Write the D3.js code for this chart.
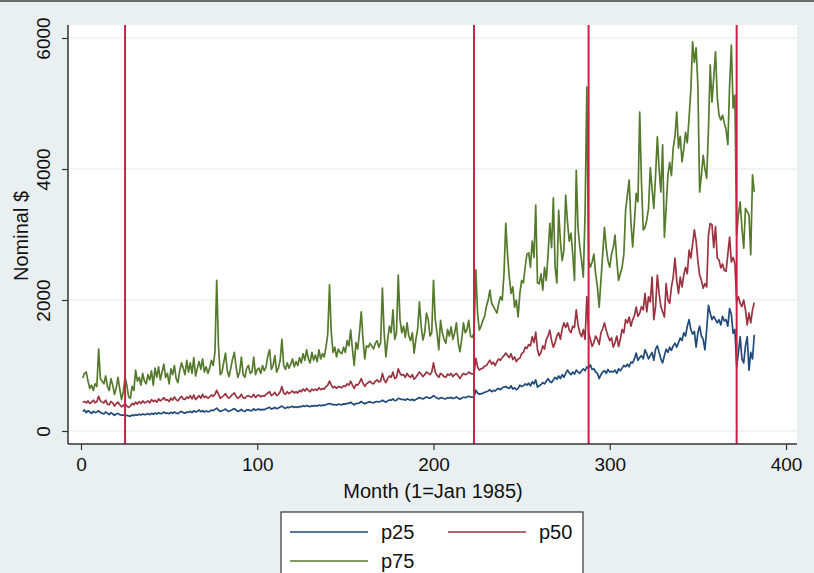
<!DOCTYPE html>
<html>
<head>
<meta charset="utf-8">
<script src="https://cdn.jsdelivr.net/npm/d3@7"></script>
<style>
  body { margin: 0; background: #eaf0f2; }
  text { font-family: "Liberation Sans", Arial, sans-serif; fill: #111; }
</style>
</head>
<body>
<div id="viz"></div>
<script>
// p25, p50, p75 of nominal $ by month (1 = Jan 1985), one row per year
var p25 = [
  300, 320, 280, 310, 290, 270, 300, 280, 290, 310, 280, 270,
  260, 290, 270, 250, 280, 260, 240, 260, 270, 250, 240, 245,
  235, 240, 230, 225, 245, 235, 250, 240, 255, 245, 260, 250,
  255, 265, 250, 270, 255, 275, 260, 280, 265, 270, 290, 270,
  275, 265, 285, 270, 290, 275, 265, 285, 300, 280, 270, 290,
  285, 300, 280, 310, 290, 300, 320, 295, 310, 290, 305, 295,
  300, 320, 310, 330, 350, 320, 300, 310, 320, 335, 310, 300,
  315, 330, 340, 320, 300, 310, 330, 305, 300, 320, 325, 310,
  310, 340, 315, 330, 335, 320, 330, 325, 340, 350, 360, 335,
  345, 360, 340, 350, 365, 380, 360, 345, 365, 355, 370, 375,
  360, 370, 360, 375, 370, 385, 375, 390, 380, 370, 385, 380,
  390, 380, 395, 385, 395, 390, 405, 410, 420, 410, 400, 405,
  395, 410, 405, 400, 415, 410, 425, 420, 440, 415, 400, 420,
  420, 430, 450, 430, 415, 430, 440, 445, 435, 430, 445, 450,
  445, 450, 470, 455, 440, 460, 475, 470, 490, 465, 470, 500,
  490, 480, 485, 470, 490, 480, 470, 485, 465, 480, 495, 510,
  500, 490, 505, 520, 510, 500, 515, 540, 520, 505, 490, 510,
  505, 495, 490, 510, 500, 515, 495, 505, 520, 500, 485, 505,
  515, 510, 520, 530, 520, 515, 520, 625, 580, 560, 570, 575,
  590, 600, 610, 630, 600, 620, 610, 640, 650, 630, 660, 670,
  680, 660, 650, 690, 640, 660, 630, 650, 700, 680, 690, 720,
  700, 730, 690, 750, 720, 780, 670, 690, 710, 740, 720, 760,
  800, 760, 740, 780, 820, 790, 840, 800, 860, 820, 880, 930,
  890, 860, 900, 870, 930, 900, 880, 920, 950, 920, 980, 960,
  1010, 940, 950, 900, 880, 800, 860, 900, 920, 880, 940, 900,
  910, 900, 930, 880, 950, 920, 960, 1000, 980, 1020, 980, 1050,
  1040, 1100, 1190, 1080, 1120, 1150, 1100, 1240, 1180, 1100, 1150, 1200,
  1080, 1250, 1300, 1200, 1100, 1040, 1150, 1250, 1200, 1280, 1230, 1300,
  1340, 1280, 1350, 1420, 1380, 1500, 1450, 1600, 1700, 1550, 1480, 1520,
  1280, 1500, 1600, 1450, 1400, 1240, 1550, 1920, 1800, 1700, 1750, 1700,
  1650, 1700, 1620, 1750, 1680, 1700, 1600, 1870, 1780, 1490, 1550, 980,
  1200, 1440, 1100, 1040, 1300, 1440, 930, 1200, 1100, 1470
];
var p50 = [
  440, 450, 430, 460, 420, 440, 470, 430, 450, 530, 460, 440,
  430, 470, 410, 400, 450, 430, 380, 420, 440, 400, 370, 390,
  420, 380, 360, 380, 420, 400, 440, 410, 450, 420, 460, 430,
  440, 460, 430, 480, 450, 470, 440, 490, 460, 480, 510, 470,
  480, 450, 500, 470, 520, 480, 460, 500, 530, 490, 480, 520,
  500, 540, 490, 550, 480, 510, 540, 500, 560, 510, 530, 500,
  520, 550, 530, 560, 620, 560, 500, 520, 540, 570, 520, 500,
  530, 560, 580, 530, 500, 520, 560, 510, 500, 530, 540, 520,
  520, 560, 510, 540, 550, 520, 540, 530, 560, 580, 600, 540,
  560, 590, 540, 560, 600, 680, 580, 560, 600, 570, 590, 610,
  580, 600, 580, 620, 600, 640, 610, 650, 620, 600, 640, 620,
  640, 620, 660, 630, 650, 640, 680, 700, 760, 700, 660, 680,
  650, 680, 670, 660, 690, 680, 720, 700, 760, 700, 650, 710,
  700, 740, 800, 730, 680, 720, 740, 760, 730, 720, 760, 780,
  750, 760, 880, 780, 740, 800, 840, 820, 900, 800, 820, 950,
  880, 850, 860, 820, 880, 840, 820, 860, 790, 820, 860, 900,
  870, 830, 860, 900, 880, 860, 900, 1040, 900, 850, 820, 880,
  860, 830, 820, 870, 850, 880, 830, 860, 880, 840, 800, 850,
  880, 860, 870, 900, 880, 870, 880, 1110, 980, 930, 950, 960,
  990, 1000, 1040, 1080, 1020, 1050, 1000, 1060, 1100, 1080, 1120, 1150,
  1190, 1150, 1120, 1180, 1090, 1130, 1060, 1100, 1110, 1180, 1200, 1280,
  1260, 1320, 1300, 1440, 1350, 1510, 1240, 1150, 1200, 1300, 1250, 1400,
  1450, 1540, 1380, 1280, 1350, 1450, 1500, 1400, 1560, 1650, 1580, 1650,
  1540, 1500, 1600, 1580, 1850, 1620, 1500, 1440, 1550, 1400, 2050, 1500,
  1400, 1290, 1350, 1450, 1400, 1320, 1500, 1560, 1650, 1540, 1450, 1380,
  1420, 1280, 1350, 1450, 1290, 1400, 1550, 1500, 1700, 1650, 1740, 1600,
  1700, 1760, 1890, 1750, 1800, 1900, 1850, 2100, 1820, 2050, 1970, 2350,
  1700, 1900, 2380, 2100, 1900, 1820, 1740, 2250, 2000, 1950, 2200, 2350,
  2640, 2300, 2100, 2350, 2200, 2380, 2500, 2400, 2760, 2640, 2850, 3070,
  2900, 2600, 2380, 2300, 2180, 2250, 2200, 2990, 3170, 3150, 2800, 3120,
  2640, 2610, 2490, 2550, 2450, 2440, 2700, 2960, 2580, 2650, 2560, 1970,
  2050, 1950, 1900, 2000, 1850, 1620, 1800, 1650, 1850, 1960
];
var p75 = [
  810, 880, 900, 760, 650, 700, 620, 720, 680, 1250, 800, 760,
  720, 840, 680, 620, 800, 700, 560, 660, 820, 640, 480, 600,
  820, 700, 520, 500, 680, 620, 930, 760, 820, 700, 880, 760,
  720, 860, 780, 920, 700, 960, 820, 980, 780, 900, 1020, 820,
  880, 720, 950, 860, 1000, 800, 740, 920, 1040, 960, 860, 1080,
  900, 1040, 880, 1120, 840, 960, 1060, 940, 1100, 900, 980, 880,
  960, 1080, 1000, 1200, 2300, 1300, 860, 900, 1050, 1190, 920, 830,
  960, 1100, 1200, 980, 820, 900, 1130, 860, 820, 960, 1000, 880,
  900, 1130, 860, 940, 960, 880, 1000, 920, 980, 1150, 1240, 940,
  1000, 1150, 900, 960, 1080, 1400, 1000, 940, 1040, 960, 1020, 1100,
  980, 1060, 1000, 1120, 1040, 1180, 1080, 1240, 1100, 1040, 1200, 1080,
  1160, 1060, 1240, 1100, 1180, 1130, 1280, 1480, 2230, 1500, 1200, 1280,
  1130, 1250, 1200, 1180, 1280, 1200, 1380, 1300, 1540, 1250, 1000, 1350,
  1250, 1500, 1820, 1400, 1100, 1300, 1280, 1340, 1300, 1250, 1340, 1380,
  1280, 1350, 2180, 1500, 1130, 1400, 1600, 1500, 1850, 1400, 1500, 2380,
  1700, 1500, 1600, 1430, 1650, 1450, 1380, 1500, 1190, 1400, 1550, 1970,
  1600, 1390, 1500, 1800, 1700, 1450, 1500, 2300, 1700, 1500, 1240, 1690,
  1500, 1400, 1340, 1550, 1450, 1590, 1400, 1500, 1650, 1350, 1210, 1400,
  1650, 1500, 1550, 1690, 1450, 1430, 1500, 2460, 1800, 1540, 1600, 1690,
  1750, 1900, 2000, 2150, 1950, 1900, 1850, 1800, 1950, 2050, 2000, 2400,
  3170, 2700, 2350, 2100, 2200, 1890, 2000, 1740, 2100, 2300, 2260, 2500,
  2700, 2720, 2500, 2900, 2650, 3450, 2260, 2250, 2400, 2150, 2500, 2300,
  2700, 3170, 2800, 3560, 2500, 2260, 3370, 2900, 2600, 2760, 3600, 3200,
  2900, 3020, 2700, 2300, 3980, 3100, 2810, 2600, 2350, 3320, 5250, 2610,
  2500, 2580, 2700, 2400, 2200, 1890, 2300, 2700, 3110, 2800, 2600, 2500,
  2700, 2800, 2990, 2600, 2300, 2400, 2500, 2700, 3370, 3600, 3830, 3200,
  2810, 3200, 3630, 3500, 4870, 3800, 3070, 3110, 3220, 3400, 4020, 3700,
  3400, 3900, 4490, 4000, 3650, 4370, 2960, 3400, 3910, 4100, 3900, 4320,
  4500, 4870, 4320, 4500, 4110, 4300, 4560, 4400, 4780, 5200, 5940, 5630,
  5850, 5280, 3650, 3900, 4210, 4000, 3860, 4600, 5590, 5020, 5400, 5790,
  5100, 4820, 4750, 4820, 4700, 4600, 4370, 5280, 5890, 4930, 5130, 2990,
  3300, 3500, 3100, 2790, 3400, 3350, 3300, 2690, 3910, 3650
];
// months marked with vertical lines
var markMonths = [25, 223, 288, 372];
var xTicks = [0, 100, 200, 300, 400];
var yTicks = [0, 2000, 4000, 6000];

var width = 814, height = 573;

var svg = d3.select("#viz").append("svg")
    .attr("width", width)
    .attr("height", height);

svg.append("rect").attr("width", width).attr("height", height).attr("fill", "#eaf0f2");
svg.append("rect").attr("width", width).attr("height", 2).attr("fill", "#6b6b6b");

// plot region
var plotLeft = 68, plotRight = 797, plotTop = 25, plotBottom = 444;
svg.append("rect")
    .attr("x", plotLeft).attr("y", plotTop)
    .attr("width", plotRight - plotLeft).attr("height", plotBottom - plotTop)
    .attr("fill", "#ffffff");

var x = d3.scaleLinear().domain([0, 400]).range([81, 786]);
var y = d3.scaleLinear().domain([0, 6000]).range([431, 38]);

// grid
svg.selectAll(".grid").data(yTicks).enter().append("line")
    .attr("class", "grid")
    .attr("x1", plotLeft + 1).attr("x2", plotRight)
    .attr("y1", function(d) { return y(d) }).attr("y2", function(d) { return y(d) })
    .attr("stroke", "#eaf0f2").attr("stroke-width", 1.5);

// series
var series = [
    { name: "p25", values: p25, color: "#1f4a7a" },
    { name: "p50", values: p50, color: "#9b3440" },
    { name: "p75", values: p75, color: "#557a2c" }
];

var line = d3.line()
    .x(function(d, i) { return x(i + 1) })
    .y(function(d) { return y(d) });

svg.selectAll(".series").data(series).enter().append("path")
    .attr("class", "series")
    .attr("d", function(d) { return line(d.values) })
    .attr("fill", "none")
    .attr("stroke", function(d) { return d.color })
    .attr("stroke-width", 1.7)
    .attr("stroke-linejoin", "round");

// vertical marker lines
svg.selectAll(".mark").data(markMonths).enter().append("line")
    .attr("class", "mark")
    .attr("x1", function(d) { return x(d) }).attr("x2", function(d) { return x(d) })
    .attr("y1", plotTop).attr("y2", plotBottom)
    .attr("stroke", "#cc1f45").attr("stroke-width", 2);

// axes
var xAxis = svg.append("g")
    .attr("transform", "translate(0," + plotBottom + ")")
    .call(d3.axisBottom(x).tickValues(xTicks).tickFormat(d3.format("d")).tickSize(6).tickPadding(8));
xAxis.select(".domain").attr("d", "M" + plotLeft + ",0H" + plotRight);

var yAxis = svg.append("g")
    .attr("transform", "translate(" + plotLeft + ",0)")
    .call(d3.axisLeft(y).tickValues(yTicks).tickFormat(d3.format("d")).tickSize(6));
yAxis.select(".domain").attr("d", "M0," + plotTop + "V" + plotBottom);

[xAxis, yAxis].forEach(function(g) {
    g.selectAll(".domain").attr("stroke", "#333").attr("stroke-width", 1.5);
    g.selectAll(".tick line").attr("stroke", "#333").attr("stroke-width", 1.2);
    g.selectAll("text").attr("font-size", 19).attr("font-family", "Liberation Sans, Arial, sans-serif").attr("fill", "#111");
});

// y tick labels rotated like Stata
yAxis.selectAll(".tick text")
    .attr("transform", "rotate(-90)")
    .attr("x", 0).attr("y", -18)
    .attr("dy", "0")
    .attr("text-anchor", "middle");

xAxis.selectAll(".tick text").attr("dy", "0.71em");

// titles
svg.append("text")
    .attr("transform", "translate(28,236) rotate(-90)")
    .attr("text-anchor", "middle")
    .attr("font-size", 20)
    .text("Nominal $");

svg.append("text")
    .attr("x", 433).attr("y", 498)
    .attr("text-anchor", "middle")
    .attr("font-size", 20)
    .text("Month (1=Jan 1985)");

// legend
var legend = svg.append("g");
legend.append("rect")
    .attr("x", 281).attr("y", 512)
    .attr("width", 302).attr("height", 80)
    .attr("fill", "#ffffff").attr("stroke", "#333").attr("stroke-width", 1.2);

var legendPos = [
    { lx: 290, ly: 532 },
    { lx: 448, ly: 532 },
    { lx: 290, ly: 561 }
];

series.forEach(function(s, i) {
    var p = legendPos[i];
    legend.append("line")
        .attr("x1", p.lx).attr("x2", p.lx + 78)
        .attr("y1", p.ly).attr("y2", p.ly)
        .attr("stroke", s.color).attr("stroke-width", 1.7);
    legend.append("text")
        .attr("x", p.lx + 91)
        .attr("y", p.ly + 7)
        .attr("font-size", 20)
        .text(s.name);
});
</script>
</body>
</html>
